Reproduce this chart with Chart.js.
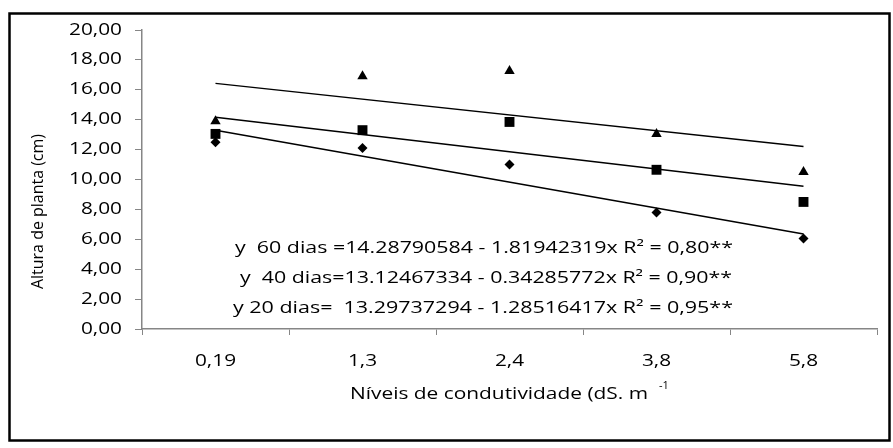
<!DOCTYPE html>
<html>
<head>
<meta charset="utf-8">
<script src="https://cdn.jsdelivr.net/npm/chart.js@4.4.0/dist/chart.umd.min.js"></script>
<style>
  html, body { margin: 0; padding: 0; background: #fff; }
  #wrap { width: 893px; height: 448px; }
</style>
</head>
<body>
<div id="wrap"><canvas id="alturaChart" width="893" height="448"></canvas></div>
<script>
// Data
const categories = ['0,19', '1,3', '2,4', '3,8', '5,8'];
const dias60 = [13.9, 16.9, 17.25, 13.05, 10.5];   // triangles
const dias40 = [13.05, 13.3, 13.85, 10.65, 8.5];   // squares
const dias20 = [12.5, 12.1, 11.0, 7.8, 6.05];      // diamonds
// trend lines (first and last category only)
const trend60 = [16.43, null, null, null, 12.2];
const trend40 = [14.16, null, null, null, 9.55];
const trend20 = [13.3, null, null, null, 6.35];
const yTickLabels = ['0,00', '2,00', '4,00', '6,00', '8,00', '10,00', '12,00', '14,00', '16,00', '18,00', '20,00'];
const equations = [
    'y  60 dias =14.28790584 - 1.81942319x R² = 0,80**',
    'y  40 dias=13.12467334 - 0.34285772x R² = 0,90**',
    'y 20 dias=  13.29737294 - 1.28516417x R² = 0,95**'
];
const yTitle = 'Altura de planta (cm)';
const xTitle = 'Níveis de condutividade (dS. m';
const xTitleSup = '-1';

const axisGray = '#868686';
const textFont = '"Open Sans", sans-serif';

// draw text squeezed/stretched horizontally to a given width
function drawFit(ctx, text, x, y, width, size) {
    ctx.save();
    ctx.font = size + 'px ' + textFont;
    const w = ctx.measureText(text).width;
    ctx.translate(x, y);
    ctx.scale(width / w, 1);
    ctx.textAlign = 'left';
    ctx.textBaseline = 'middle';
    ctx.fillText(text, 0, 0);
    ctx.restore();
}

function drawStretched(ctx, text, x, y, align, size, sx) {
    ctx.save();
    ctx.font = size + 'px ' + textFont;
    const w = ctx.measureText(text).width * sx;
    let left = x;
    if (align === 'right') left = x - w;
    if (align === 'center') left = x - w / 2;
    ctx.translate(left, y);
    ctx.scale(sx, 1);
    ctx.textAlign = 'left';
    ctx.textBaseline = 'middle';
    ctx.fillText(text, 0, 0);
    ctx.restore();
}

const decorPlugin = {
    id: 'decor',
    beforeDraw(chart) {
        const ctx = chart.ctx;
        ctx.save();
        ctx.fillStyle = '#ffffff';
        ctx.fillRect(0, 0, chart.width, chart.height);
        ctx.restore();
    },
    afterDraw(chart) {
        const ctx = chart.ctx;
        const xs = chart.scales.x;
        const ys = chart.scales.y;
        ctx.save();
        ctx.fillStyle = '#000000';

        // tick labels
        ys.ticks.forEach((t, i) => {
            drawStretched(ctx, yTickLabels[i], 122, ys.getPixelForTick(i), 'right', 16, 1.3);
        });
        categories.forEach((c, i) => {
            drawStretched(ctx, c, xs.getPixelForTick(i), 361, 'center', 16, 1.3);
        });

        // regression equations
        drawFit(ctx, equations[0], 235, 248, 498, 16);
        drawFit(ctx, equations[1], 240, 278, 492, 16);
        drawFit(ctx, equations[2], 233, 308, 500, 16);

        // axis titles
        drawFit(ctx, xTitle, 350, 394, 298, 16);
        ctx.font = '11px ' + textFont;
        ctx.textBaseline = 'middle';
        ctx.fillText(xTitleSup, 659, 386);

        ctx.save();
        ctx.translate(38, 212);
        ctx.rotate(-Math.PI / 2);
        drawFit(ctx, yTitle, -77, 0, 155, 16);
        ctx.restore();

        // outer frame
        ctx.strokeStyle = '#000000';
        ctx.lineWidth = 2.5;
        ctx.strokeRect(9.5, 13.5, 880, 427);
        ctx.restore();
    }
};

const ctx = document.getElementById('alturaChart');
new Chart(ctx, {
    type: 'line',
    data: {
        labels: categories,
        datasets: [
            {
                label: '60 dias',
                data: dias60,
                showLine: false,
                pointStyle: 'triangle',
                pointRadius: 6,
                pointBackgroundColor: '#000',
                pointBorderColor: '#000',
                pointBorderWidth: 0
            },
            {
                label: '40 dias',
                data: dias40,
                showLine: false,
                pointStyle: 'rect',
                pointRadius: 7,
                pointBackgroundColor: '#000',
                pointBorderColor: '#000',
                pointBorderWidth: 0
            },
            {
                label: '20 dias',
                data: dias20,
                showLine: false,
                pointStyle: 'rectRot',
                pointRadius: 5,
                pointBackgroundColor: '#000',
                pointBorderColor: '#000',
                pointBorderWidth: 0
            },
            {
                label: 'Linear (60 dias)',
                data: trend60,
                spanGaps: true,
                borderColor: '#000',
                borderWidth: 1.5,
                pointRadius: 0
            },
            {
                label: 'Linear (40 dias)',
                data: trend40,
                spanGaps: true,
                borderColor: '#000',
                borderWidth: 1.5,
                pointRadius: 0
            },
            {
                label: 'Linear (20 dias)',
                data: trend20,
                spanGaps: true,
                borderColor: '#000',
                borderWidth: 1.5,
                pointRadius: 0
            }
        ]
    },
    options: {
        responsive: false,
        animation: false,
        layout: { padding: { left: 0, right: 16, top: 30, bottom: 0 } },
        plugins: {
            legend: { display: false },
            tooltip: { enabled: false }
        },
        scales: {
            x: {
                offset: true,
                grid: {
                    offset: true,
                    drawOnChartArea: false,
                    drawTicks: true,
                    tickLength: 6,
                    color: axisGray
                },
                border: { display: true, color: axisGray, width: 1.5 },
                ticks: { display: false },
                afterFit(scale) { scale.height = 119; }
            },
            y: {
                min: 0,
                max: 20,
                ticks: { stepSize: 2, display: false },
                grid: {
                    drawOnChartArea: false,
                    drawTicks: true,
                    tickLength: 7,
                    color: axisGray
                },
                border: { display: true, color: axisGray, width: 1.5 },
                afterFit(scale) { scale.width = 142; }
            }
        }
    },
    plugins: [decorPlugin]
});
</script>
</body>
</html>
